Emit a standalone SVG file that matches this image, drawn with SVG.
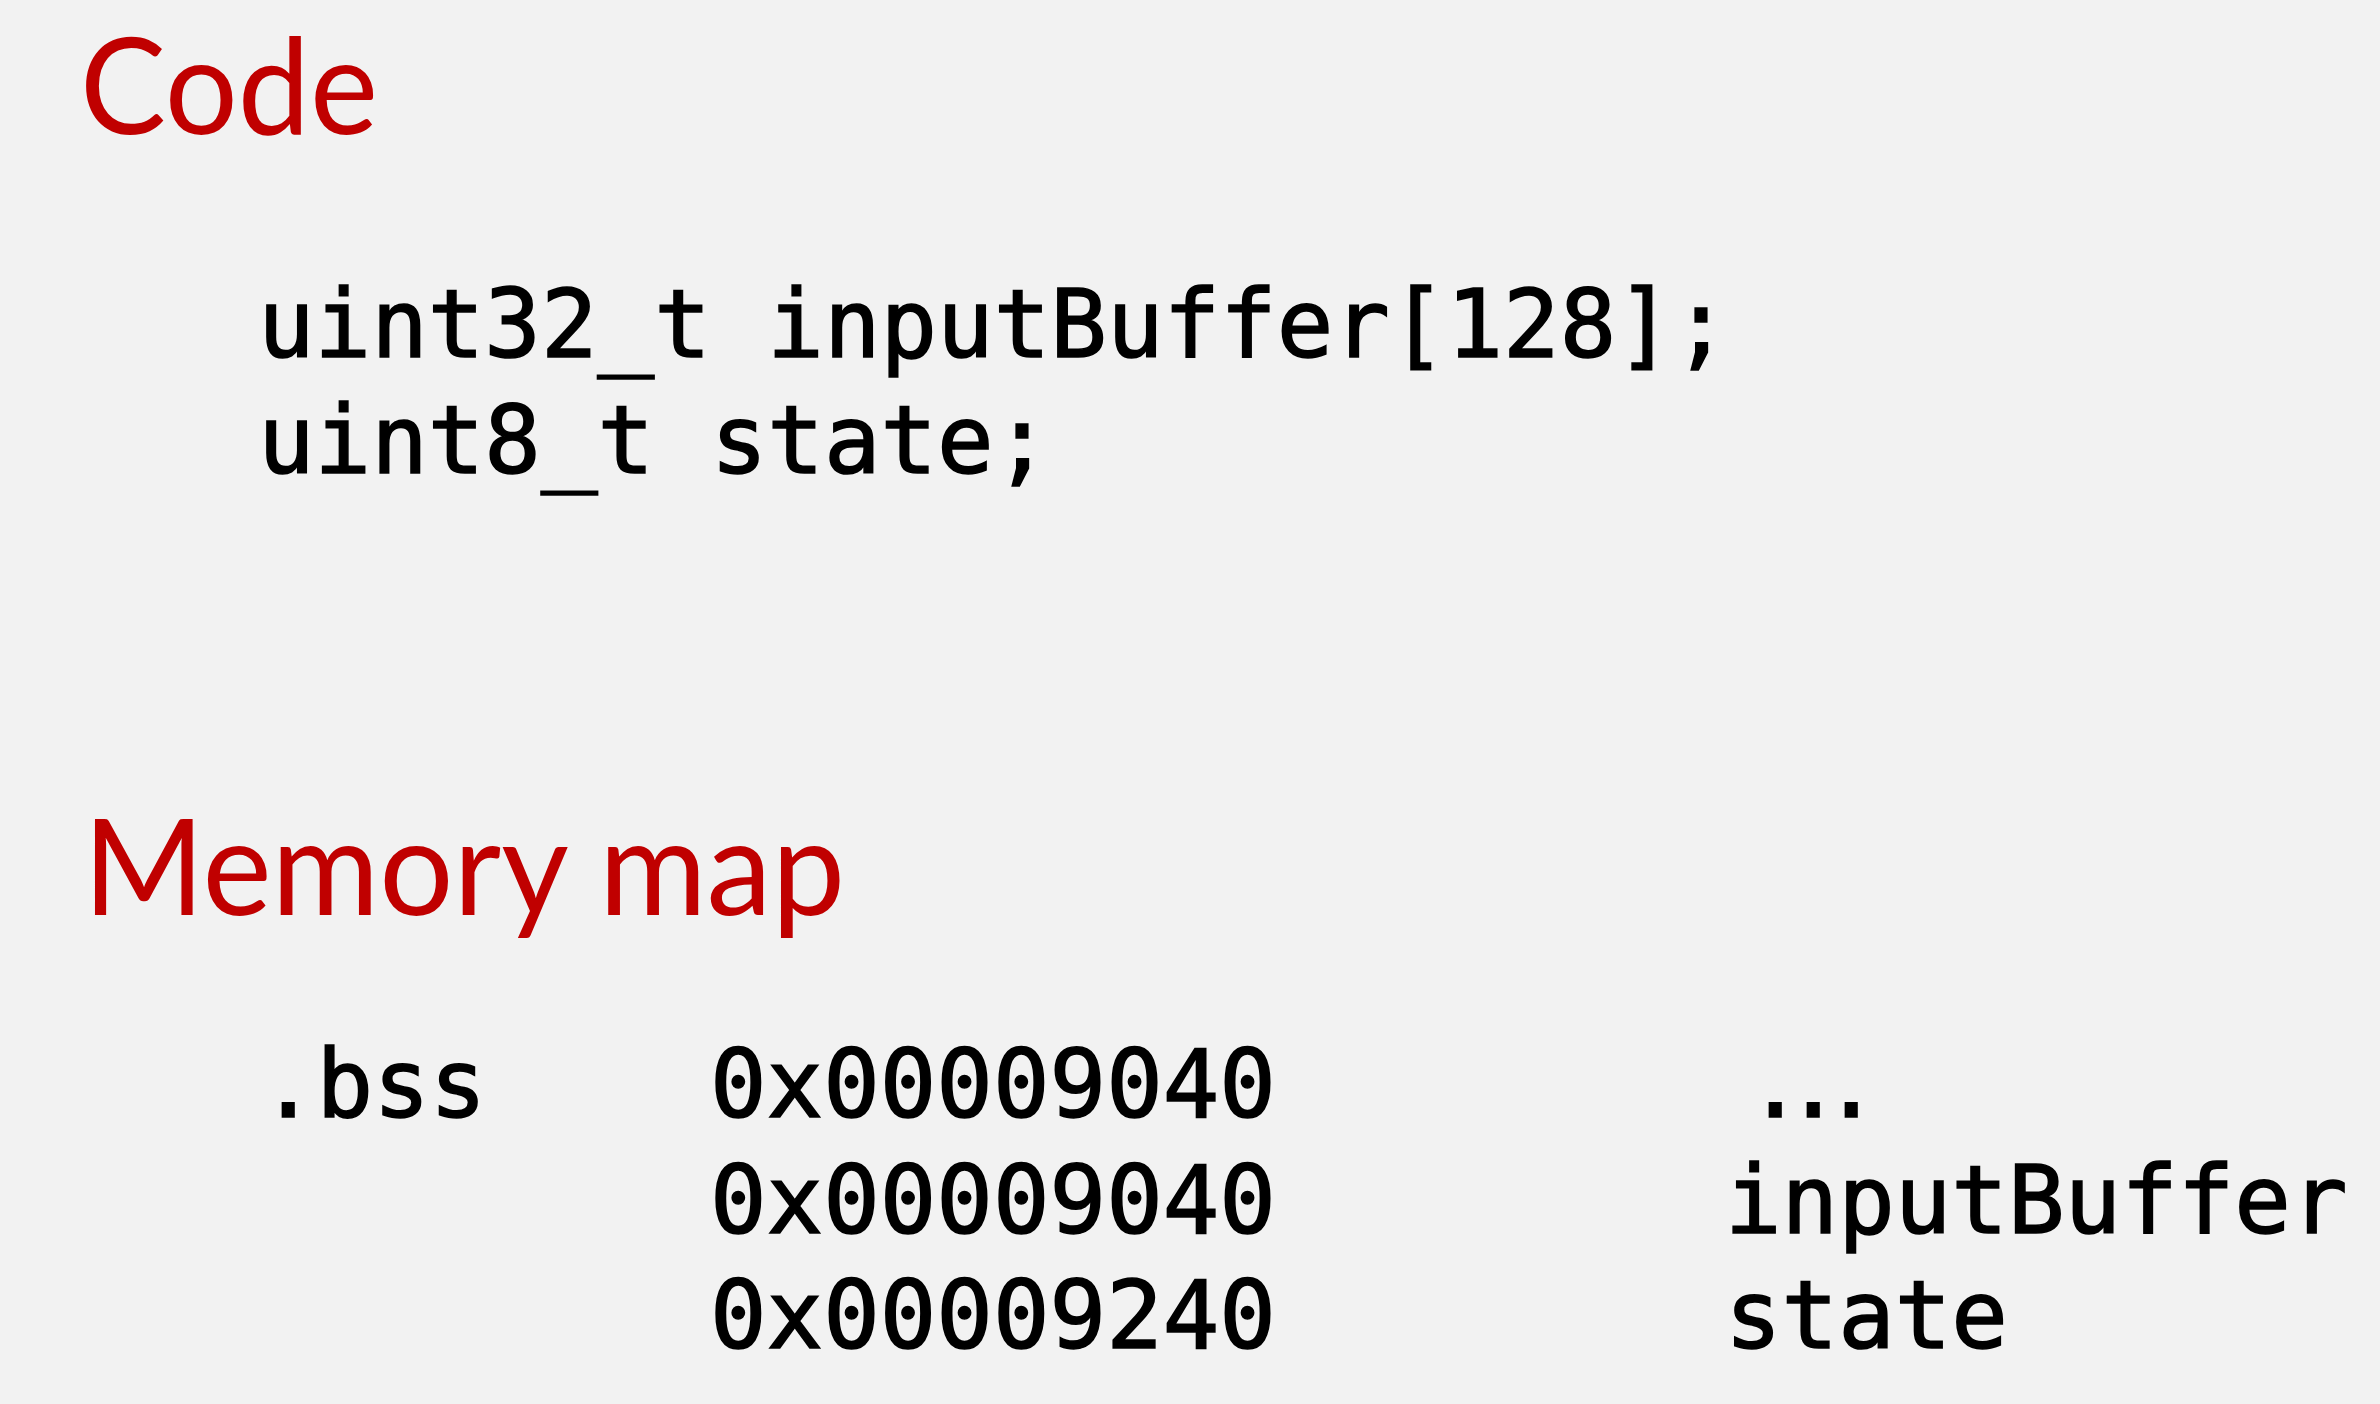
<svg xmlns="http://www.w3.org/2000/svg" width="2380" height="1404" viewBox="0 0 2380 1404">
<style>
.h{font-family:Lato,"Open Sans","Noto Sans",sans-serif;font-size:133px;fill:#C00000}
.m{font-family:"DejaVu Sans Mono","Liberation Mono",monospace;font-size:94px;fill:#000;stroke:#000;stroke-width:1.6px}
</style>
<rect width="2380" height="1404" fill="#F2F2F2"/>
<g id="heading-code"><text class="h" x="80" y="134" textLength="298" lengthAdjust="spacingAndGlyphs">Code</text></g>
<g id="code">
<text class="m" x="258" y="357" xml:space="preserve">uint32_t inputBuffer[128];</text>
<text class="m" x="258" y="473" xml:space="preserve">uint8_t state;</text>
</g>
<g id="heading-memory"><text class="h" x="83" y="915" textLength="762" lengthAdjust="spacingAndGlyphs">Memory map</text></g>
<g id="memory-map">
<text class="m" x="260" y="1117">.bss</text>
<text class="m" x="710" y="1117">0x00009040</text>
<text class="m" x="710" y="1233">0x00009040</text>
<text class="m" x="710" y="1348">0x00009240</text>
<text class="m" x="1747 1785 1823" y="1117">...</text>
<text class="m" x="1725" y="1233">inputBuffer</text>
<text class="m" x="1725" y="1348">state</text>
</g>
</svg>
